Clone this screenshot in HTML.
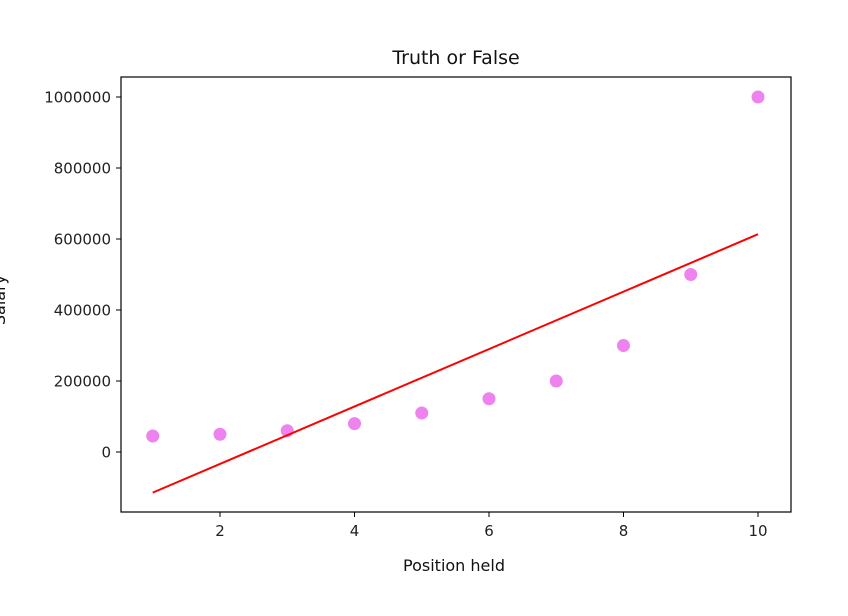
<!DOCTYPE html>
<html><head><meta charset="utf-8"><style>
body{margin:0;background:#fff;}
svg{display:block;font-family:"DejaVu Sans","Liberation Sans",sans-serif;}
</style></head><body>
<svg id="chart" width="848" height="616">
<rect x="0" y="0" width="848" height="616" fill="#fff"/>
<text x="456" y="64" text-anchor="middle" font-size="19" fill="#111">Truth or False</text>
<text x="454" y="571" text-anchor="middle" font-size="16" fill="#111">Position held</text>
<text transform="translate(5,300) rotate(-90)" text-anchor="middle" font-size="16" fill="#111">Salary</text>
<g id="plot"></g>
<rect x="121" y="77" width="670" height="435" fill="none" stroke="#000" stroke-width="1.2"/>
</svg>
<script>
const positions=[1,2,3,4,5,6,7,8,9,10];
const salaries=[45000,50000,60000,80000,110000,150000,200000,300000,500000,1000000];
const xTicks=[2,4,6,8,10];
const yTicks=[0,200000,400000,600000,800000,1000000];
const fitSlope=80878.79;
const fitIntercept=-195333.33;
const ns="http://www.w3.org/2000/svg";
const g=document.getElementById('plot');
const xs=v=>152.75+(v-1)*67.25;
const ys=v=>452-v*0.000355;
function mk(t,a){const e=document.createElementNS(ns,t);for(const k in a)e.setAttribute(k,a[k]);g.appendChild(e);return e;}
xTicks.forEach(t=>{
 const l=mk('line',{x1:xs(t),x2:xs(t),y1:512,y2:517,stroke:'#000'});
 
 
 const tx=mk('text',{x:xs(t),y:536,'text-anchor':'middle','font-size':15,fill:'#222'});
 tx.textContent=t;
 
 
});
yTicks.forEach(t=>{
 const l=mk('line',{x1:116,x2:121,y1:ys(t),y2:ys(t),stroke:'#000'});
 
 
 const tx=mk('text',{x:111,y:ys(t)+5.5,'text-anchor':'end','font-size':15,fill:'#222'});
 tx.textContent=t;
 
 
});
positions.forEach((p,i)=>{
 const c=mk('circle',{cx:xs(p),cy:ys(salaries[i]),r:6.5,fill:'#ee82ee'});
 
 
});
const x0=positions[0],x1=positions[positions.length-1];
const ln=mk('line',{x1:xs(x0),y1:ys(fitSlope*x0+fitIntercept),x2:xs(x1),y2:ys(fitSlope*x1+fitIntercept),stroke:'#ff0000','stroke-width':2});


</script>
</body></html>
